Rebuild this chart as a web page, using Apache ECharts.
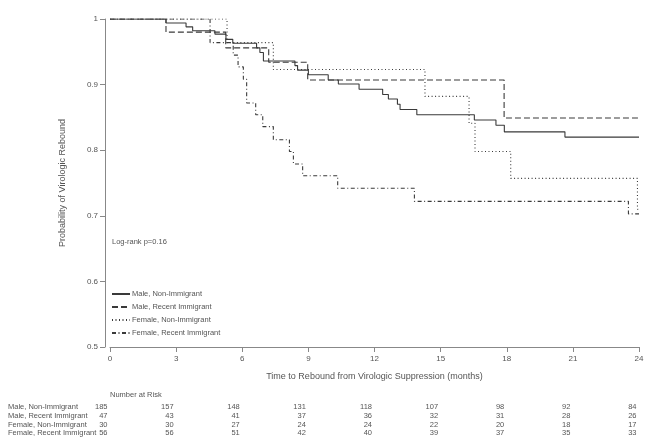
<!DOCTYPE html>
<html>
<head>
<meta charset="utf-8">
<script src="https://cdn.jsdelivr.net/npm/echarts@6/dist/echarts.min.js"></script>
<style>html,body{margin:0;padding:0;background:#fff;}#c{width:650px;height:448px;}</style>
</head>
<body>
<div id="c"></div>
<script>
// ---- data ----
const seriesNames = ['Male, Non-Immigrant', 'Male, Recent Immigrant', 'Female, Non-Immigrant', 'Female, Recent Immigrant'];

const maleNonImmT = [0, 2.54, 3.45, 3.75, 4.76, 5.26, 5.57, 6.65, 6.80, 6.96, 8.39, 8.51, 9.00, 9.90, 10.36, 11.30, 12.37, 12.63, 13.04, 13.16, 13.92, 16.53, 17.51, 17.89, 20.64, 24];
const maleNonImmS = [1, 0.994, 0.988, 0.982, 0.977, 0.969, 0.963, 0.956, 0.949, 0.936, 0.929, 0.922, 0.915, 0.907, 0.901, 0.893, 0.885, 0.878, 0.870, 0.862, 0.854, 0.846, 0.838, 0.828, 0.820, 0.820];

const maleRecT = [0, 2.54, 5.25, 7.20, 8.97, 17.88, 24];
const maleRecS = [1, 0.980, 0.956, 0.934, 0.907, 0.849, 0.849];

const femNonImmT = [0, 5.31, 7.41, 14.29, 16.29, 16.56, 18.18, 23.93, 24];
const femNonImmS = [1, 0.964, 0.923, 0.882, 0.841, 0.798, 0.757, 0.710, 0.710];

const femRecT = [0, 4.54, 5.59, 5.81, 6.05, 6.20, 6.61, 6.93, 7.41, 8.14, 8.32, 8.74, 10.33, 13.81, 23.52, 24];
const femRecS = [1, 0.964, 0.945, 0.927, 0.908, 0.872, 0.854, 0.836, 0.816, 0.798, 0.779, 0.761, 0.742, 0.722, 0.703, 0.703];

const riskTimes = [0, 3, 6, 9, 12, 15, 18, 21, 24];
const riskMaleNonImm = [185, 157, 148, 131, 118, 107, 98, 92, 84];
const riskMaleRec = [47, 43, 41, 37, 36, 32, 31, 28, 26];
const riskFemNonImm = [30, 30, 27, 24, 24, 22, 20, 18, 17];
const riskFemRec = [56, 56, 51, 42, 40, 39, 37, 35, 33];

const pValueText = 'Log-rank p=0.16';
const xAxisTitle = 'Time to Rebound from Virologic Suppression (months)';
const yAxisTitle = 'Probability of Virologic Rebound';
const riskTitle = 'Number at Risk';

// ---- build ----
const FONT = 'Liberation Sans, Arial, sans-serif';
const TXT = '#555';
const LINE = '#3a3a3a';
const zip = (a, b) => a.map((v, i) => [v, b[i]]);
const curves = [
  { t: maleNonImmT, s: maleNonImmS, dash: 'solid' },
  { t: maleRecT, s: maleRecS, dash: [6, 3] },
  { t: femNonImmT, s: femNonImmS, dash: [1, 2.5] },
  { t: femRecT, s: femRecS, dash: [4, 2.5, 1, 2.5] }
];
const riskRows = [riskMaleNonImm, riskMaleRec, riskFemNonImm, riskFemRec];

const chart = echarts.init(document.getElementById('c'), null, { renderer: 'canvas' });
const option = {
  animation: false,
  backgroundColor: '#fff',
  textStyle: { fontFamily: FONT },
  grid: { left: 110, right: 11, top: 19, bottom: 101, containLabel: false },
  xAxis: {
    type: 'value', min: 0, max: 24, interval: 3,
    name: xAxisTitle, nameLocation: 'middle', nameGap: 25,
    nameTextStyle: { color: TXT, fontSize: 9, fontFamily: FONT },
    axisLine: { show: true, onZero: false, lineStyle: { color: '#888', width: 1 } },
    axisTick: { show: true, inside: false, length: 5, lineStyle: { color: '#888' } },
    axisLabel: { color: TXT, fontSize: 8, fontFamily: FONT, margin: 8 },
    splitLine: { show: false }
  },
  yAxis: {
    type: 'value', min: 0.5, max: 1, interval: 0.1, offset: 5,
    name: yAxisTitle, nameLocation: 'middle', nameGap: 38, nameRotate: 90,
    nameTextStyle: { color: TXT, fontSize: 9, fontFamily: FONT },
    axisLine: { show: true, onZero: false, lineStyle: { color: '#888', width: 1 } },
    axisTick: { show: true, inside: false, length: 5, lineStyle: { color: '#888' } },
    axisLabel: { color: TXT, fontSize: 8, fontFamily: FONT, margin: 7, formatter: v => String(+v.toFixed(1)) },
    splitLine: { show: false }
  },
  legend: {
    orient: 'vertical', left: 111, top: 290,
    itemWidth: 18, itemHeight: 8, itemGap: 5,
    textStyle: { color: TXT, fontSize: 7.5, fontFamily: FONT, padding: [0, 0, 0, -3] },
    itemStyle: { opacity: 0 },
    data: seriesNames,
    padding: 0
  },
  series: curves.map((c, i) => ({
    name: seriesNames[i],
    type: 'line', step: 'end', showSymbol: false, symbol: 'none',
    data: zip(c.t, c.s),
    lineStyle: { color: LINE, width: 1.1, type: c.dash },
    itemStyle: { color: LINE },
    z: 4 - i
  }))
};
chart.setOption(option);

// graphic texts: p-value and number-at-risk table, positioned via the x axis scale
const graphics = [];
graphics.push({ type: 'text', left: 112, top: 238, style: { text: pValueText, fill: TXT, font: '7.5px ' + FONT } });
const x0 = chart.convertToPixel({ xAxisIndex: 0 }, 0);
graphics.push({ type: 'text', x: x0, y: 395, style: { text: riskTitle, fill: TXT, font: '7.5px ' + FONT, verticalAlign: 'middle', align: 'left' } });
const rowY = [407, 416, 424.5, 433];
riskRows.forEach((row, r) => {
  graphics.push({ type: 'text', x: 8, y: rowY[r], style: { text: seriesNames[r], fill: TXT, font: '7.5px ' + FONT, verticalAlign: 'middle', align: 'left' } });
  row.forEach((v, k) => {
    const px = chart.convertToPixel({ xAxisIndex: 0 }, riskTimes[k]);
    graphics.push({ type: 'text', x: px - 2.5, y: rowY[r], style: { text: String(v), fill: TXT, font: '7.5px ' + FONT, verticalAlign: 'middle', align: 'right' } });
  });
});
chart.setOption({ graphic: graphics });
</script>
</body>
</html>
